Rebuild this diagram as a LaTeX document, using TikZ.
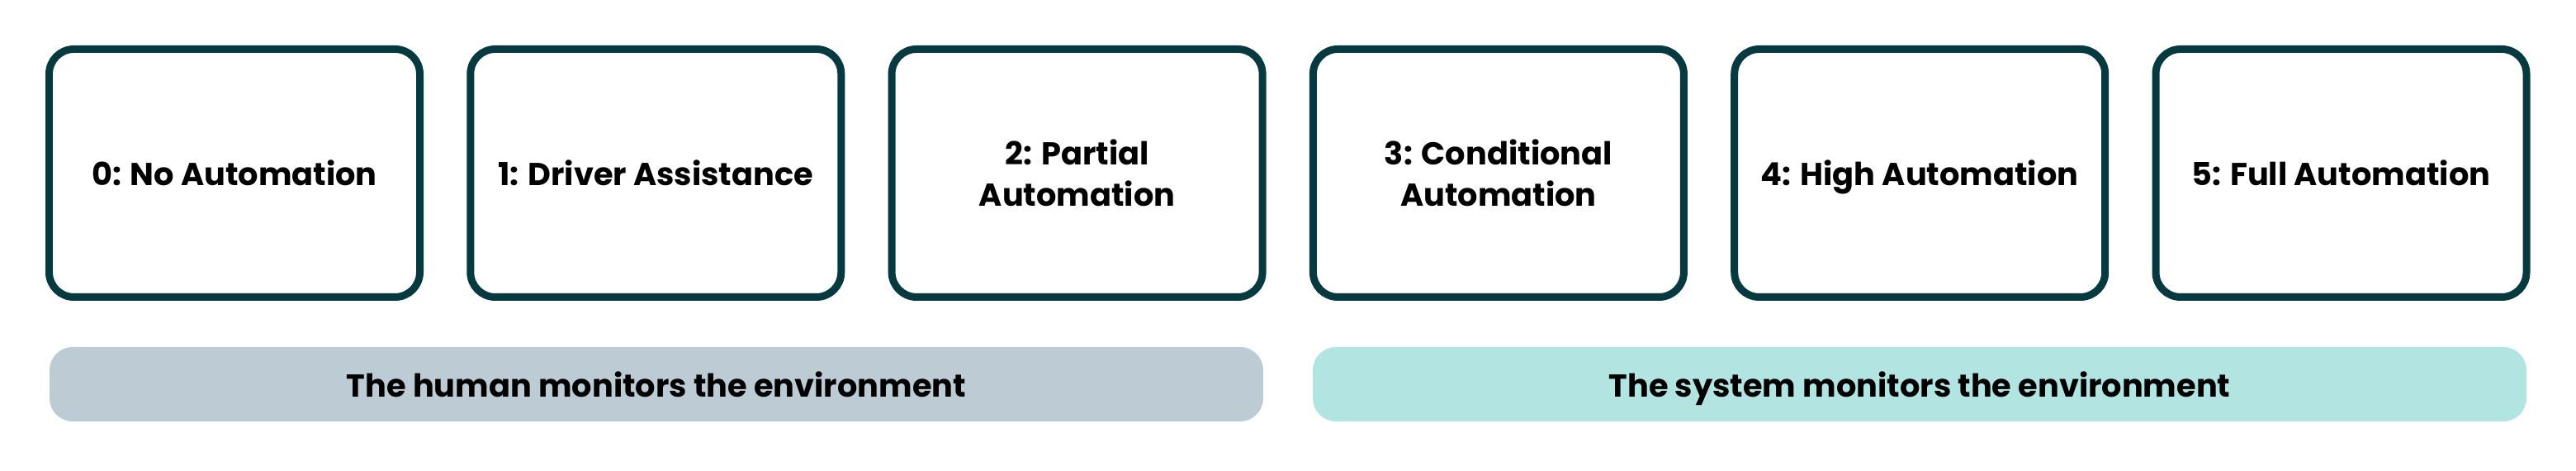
\documentclass[tikz,border=0pt]{standalone}
\usepackage{fontspec}
\setmainfont{Poppins}
\usepackage{xcolor}
\usepackage{tikz}

\definecolor{levelline}{HTML}{063A40}
\definecolor{humanband}{HTML}{BDCCD4}
\definecolor{systemband}{HTML}{B2E4E2}

\tikzset{
	level/.style={draw=levelline, line width=0.09cm, rounded corners=0.3cm,
		minimum width=4.49cm, minimum height=3cm, inner sep=0pt, align=center,
		font=\bfseries\fontsize{10.9}{14.2}\selectfont},
	oneline/.style={text height=8.8pt, text depth=0pt},
	monitor/.style={rounded corners=0.28cm, minimum width=14.7cm,
		minimum height=0.9cm, inner sep=0pt, oneline,
		font=\bfseries\fontsize{10.9}{14.2}\selectfont}
}

\begin{document}
\begin{tikzpicture}
	\useasboundingbox (0,0) rectangle (31.2,5.7);
	% levels of automation
	\node[level, oneline] (lvl0) at (2.84,3.605) {0: No Automation};
	\node[level, oneline] (lvl1) at (7.943,3.605) {1: Driver Assistance};
	\node[level] (lvl2) at (13.046,3.605) {2: Partial\\Automation};
	\node[level] (lvl3) at (18.149,3.605) {3: Conditional\\Automation};
	\node[level, oneline] (lvl4) at (23.252,3.605) {4: High Automation};
	\node[level, oneline] (lvl5) at (28.355,3.605) {5: Full Automation};

	% who monitors
	\node[monitor, fill=humanband] (human) at (7.95,1.05) {The human monitors the environment};
	\node[monitor, fill=systemband] (system) at (23.25,1.05) {The system monitors the environment};
\end{tikzpicture}
\end{document}
